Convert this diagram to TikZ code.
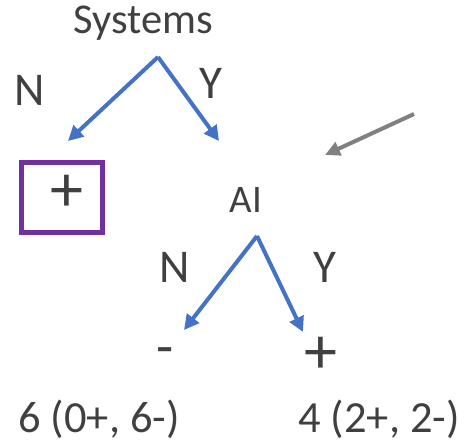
\documentclass[tikz,border=0pt]{standalone}
\usepackage{fontspec}
\setmainfont{Carlito}
\usetikzlibrary{arrows.meta}
\definecolor{txtgray}{HTML}{404040}
\definecolor{branchblue}{HTML}{4472C4}
\definecolor{leafpurple}{HTML}{7030A0}
\definecolor{pointgray}{HTML}{808080}
\tikzset{
  lbl/.style={anchor=base,inner sep=0pt,text=txtgray},
  leaf/.style={text=txtgray,inner sep=0pt,font=\fontsize{66}{66}\selectfont},
  branch/.style={draw=branchblue,line width=4pt,-{Triangle[length=15pt,width=15pt]}},
  pointer/.style={draw=pointgray,line width=4pt,-{Triangle[length=15pt,width=14pt]}}
}
\begin{document}
\begin{tikzpicture}[x=1pt,y=-1pt]
        \useasboundingbox (0,0) rectangle (464,446);
        % root split
        \coordinate (S) at (158,57);
        \coordinate (SN) at (68,141);
        \coordinate (SY) at (219,141);
        % AI split
        \coordinate (T) at (257,236);
        \coordinate (TN) at (184,330);
        \coordinate (TY) at (303,332);
        % grey pointer
        \coordinate (P1) at (414,114);
        \coordinate (P2) at (325,155);

        \node[lbl,font=\fontsize{42.5}{42.5}\selectfont] (sys) at (143,34) {Systems};
        \node[lbl,font=\fontsize{47}{47}\selectfont] (n1) at (30,106) {N};
        \node[lbl,font=\fontsize{47}{47}\selectfont] (y1) at (211,99) {Y};
        \node[lbl,font=\fontsize{39}{39}\selectfont] (ai) at (246,213) {AI};
        \node[lbl,font=\fontsize{47}{47}\selectfont] (n2) at (175,283) {N};
        \node[lbl,font=\fontsize{47}{47}\selectfont] (y2) at (325,283) {Y};

        \draw[branch] (S) -- (SN);
        \draw[branch] (S) -- (SY);
        \draw[branch] (T) -- (TN);
        \draw[branch] (T) -- (TY);
        \draw[pointer] (P1) -- (P2);

        % leaves
        \draw[leafpurple,line width=5pt] (21.5,162.5) rectangle (102,232.5);
        \node[leaf] (plus1) at (67,193) {+};
        \node[leaf,font=\fontsize{56}{56}\selectfont] (minus2) at (165,357) {-};
        \node[leaf] (plus2) at (321,355) {+};
        \node[lbl,anchor=base west,font=\fontsize{44.5}{44.5}\selectfont] (cnt1) at (18,433) {6 (0+, 6-)};
        \node[lbl,anchor=base west,font=\fontsize{44.5}{44.5}\selectfont] (cnt2) at (298,433) {4 (2+, 2-)};
\end{tikzpicture}
\end{document}
